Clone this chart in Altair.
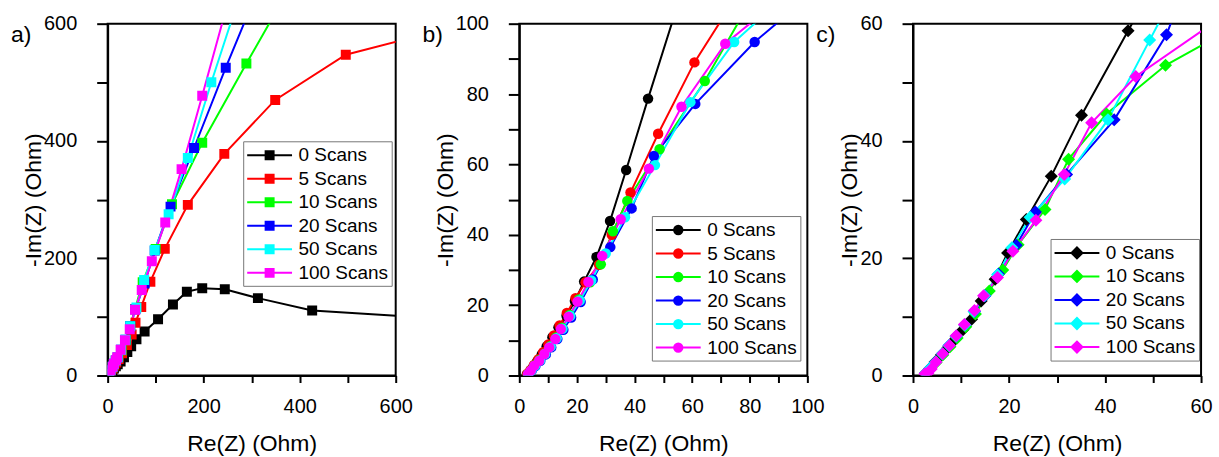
import altair as alt
import pandas as pd

FONT = "Liberation Sans"

# ---------------- data (Re(Z), -Im(Z)) ----------------
names_ab = ["0 Scans", "5 Scans", "10 Scans", "20 Scans", "50 Scans", "100 Scans"]
colors_ab = ["#000000", "#ff0000", "#00ff00", "#0000ff", "#00ffff", "#ff00ff"]
names_c = ["0 Scans", "10 Scans", "20 Scans", "50 Scans", "100 Scans"]
colors_c = ["#000000", "#00ff00", "#0000ff", "#00ffff", "#ff00ff"]
panel_letters = ["a)", "b)", "c)"]

# panel a (squares)
a0_x = [3, 6, 10, 13, 17, 21, 27, 34, 41, 49, 60, 77, 105, 136, 165, 197, 244, 313, 426, 700]
a0_y = [2, 5, 9, 12, 16, 19, 24, 31, 40, 50, 62, 75, 96, 121, 143, 149, 147, 132, 111, 97]
a5_x = [3, 6, 10, 14, 18, 23, 30, 40, 50, 58, 70, 89, 119, 167, 243, 349, 496, 700]
a5_y = [2, 7, 12, 17, 22, 28, 38, 52, 70, 90, 117, 160, 216, 291, 378, 470, 547, 590]
a10_x = [3, 6, 10, 13, 17, 22, 29, 38, 47, 57, 73, 100, 134, 197, 289, 360]
a10_y = [2, 8, 14, 19, 25, 31, 43, 60, 84, 113, 159, 216, 292, 397, 532, 634]
a20_x = [3, 6, 10, 13, 17, 21, 28, 37, 47, 58, 77, 98, 131, 180, 246, 300]
a20_y = [2, 9, 15, 20, 26, 31, 44, 61, 84, 113, 157, 213, 288, 388, 525, 632]
a50_x = [3, 6, 10, 13, 17, 21, 28, 37, 47, 60, 76, 98, 127, 167, 216, 265]
a50_y = [2, 9, 15, 20, 26, 31, 44, 61, 84, 116, 163, 214, 275, 371, 500, 623]
a100_x = [3, 6, 10, 13, 17, 20, 27, 36, 46, 57, 71, 92, 120, 154, 197, 255]
a100_y = [2, 9, 15, 20, 26, 31, 44, 60, 79, 112, 146, 195, 261, 352, 477, 650]

# panel b (circles)
b0_x = [2.6, 3.6, 4.8, 6.2, 7.8, 9.5, 11.5, 13.6, 16.4, 19.3, 22.5, 26.8, 31.5, 37.1, 44.7, 56]
b0_y = [0.2, 1, 2.4, 4, 6, 8.3, 10.9, 13.7, 17, 21.2, 26.7, 33.7, 43.9, 58.4, 78.7, 108]
b5_x = [2.8, 3.9, 5.1, 6.6, 8.3, 10.1, 12, 14, 16.5, 19.5, 23, 27.7, 32.1, 38.6, 48.2, 60.8, 74]
b5_y = [0.5, 1.6, 3, 4.6, 6.6, 8.8, 11.4, 14.2, 17.8, 22, 26.5, 31.5, 40, 52, 68.7, 89, 106]
b10_x = [3, 4.1, 5.3, 7, 8.9, 10.7, 12.8, 14.8, 17.5, 20.7, 24.6, 28.3, 32.5, 37.5, 48.7, 64.4, 80]
b10_y = [0.4, 1.5, 2.9, 4.4, 6.3, 8.3, 10.8, 13.6, 17.2, 21.6, 26.5, 31.6, 41, 49.6, 64.3, 83.7, 106]
b20_x = [3.2, 4.3, 5.6, 7.3, 9.2, 11.1, 13.2, 15.3, 18, 21.3, 25.5, 31.6, 39, 46.7, 61.1, 81.7, 95]
b20_y = [0.4, 1.4, 2.7, 4.2, 6, 8, 10.4, 13, 16.5, 20.9, 27.3, 36.5, 47.5, 62.4, 77.2, 94.8, 104]
b50_x = [3.1, 4.2, 5.5, 7.2, 9, 10.9, 13, 15, 17.7, 21, 25, 30, 36.7, 47.1, 59.4, 74.6, 88]
b50_y = [0.4, 1.4, 2.8, 4.3, 6.2, 8.2, 10.6, 13.3, 16.9, 21.3, 27, 34.7, 45, 59.8, 77.7, 94.8, 104.7]
b100_x = [3, 4, 5.2, 6.9, 8.7, 10.4, 12.5, 14.4, 17.1, 20.2, 24, 28.8, 35.2, 45, 56.3, 71.5, 86]
b100_y = [0.4, 1.4, 2.8, 4.2, 6.1, 8, 10.4, 13.2, 16.7, 21, 26.6, 34, 44.4, 58.8, 76.4, 94.3, 104]

# panel c (diamonds)
c0_x = [2.6, 3.5, 4.6, 5.9, 7.3, 8.8, 10.4, 12.2, 14.2, 17.1, 19.7, 23.6, 28.8, 35.1, 44.8, 48]
c0_y = [0.4, 1.2, 2.3, 3.5, 4.8, 6.2, 7.8, 9.6, 12.7, 16.4, 20.9, 26.6, 34, 44.4, 58.8, 63.5]
c10_x = [2.7, 3.6, 4.8, 6.2, 7.7, 9.2, 11, 13, 15.9, 18.7, 21.9, 27.5, 32.4, 40.3, 52.6, 66]
c10_y = [0.4, 1.1, 2.2, 3.5, 4.9, 6.4, 8.3, 10.5, 14.4, 18, 22.3, 28.3, 36.9, 44.6, 52.9, 59]
c20_x = [2.6, 3.5, 4.7, 6.1, 7.5, 9, 10.8, 12.8, 15, 17.8, 21.5, 25.5, 32, 41.9, 52.8, 55]
c20_y = [0.4, 1.2, 2.3, 3.7, 5.1, 6.7, 8.6, 10.9, 13.6, 17.3, 22.2, 27.9, 34.3, 43.6, 58.1, 62.9]
c50_x = [2.6, 3.5, 4.7, 6.1, 7.5, 9, 10.8, 12.7, 14.9, 17.6, 20.6, 24.4, 31.6, 40.6, 49.3, 52]
c50_y = [0.4, 1.2, 2.3, 3.7, 5.1, 6.7, 8.6, 10.9, 13.6, 17.2, 21.8, 27, 33.5, 43.6, 57.2, 61.4]
c100_x = [2.5, 3.1, 3.8, 4.8, 6.2, 7.6, 9, 10.7, 12.8, 14.7, 17.6, 20.8, 25.6, 31.5, 37.2, 46.4, 68]
c100_y = [0.3, 0.4, 1.1, 2.3, 3.7, 5.1, 6.8, 8.7, 11.1, 13.6, 16.7, 21.2, 26.5, 34.3, 43.1, 51, 63.2]

series_a = [(a0_x, a0_y), (a5_x, a5_y), (a10_x, a10_y), (a20_x, a20_y), (a50_x, a50_y), (a100_x, a100_y)]
series_b = [(b0_x, b0_y), (b5_x, b5_y), (b10_x, b10_y), (b20_x, b20_y), (b50_x, b50_y), (b100_x, b100_y)]
series_c = [(c0_x, c0_y), (c10_x, c10_y), (c20_x, c20_y), (c50_x, c50_y), (c100_x, c100_y)]


def make_df(series, names):
    rows = []
    for s, (name, (xs, ys)) in enumerate(zip(names, series)):
        for i, (x, y) in enumerate(zip(xs, ys)):
            rows.append({"re": x, "im": y, "series": name, "i": i, "s": s})
    return pd.DataFrame(rows)


# legend glyphs: a line segment with the marker in its middle (1 unit = 10 px)
SQ = "M-2.25,0H2.25M-0.4,-0.4H0.4V0.4H-0.4Z"
CI = "M-2.25,0H2.25M-0.42,0A0.42,0.42 0 1,0 0.42,0A0.42,0.42 0 1,0 -0.42,0Z"
DI = "M-2.25,0H2.25M-0.55,0L0,-0.55L0.55,0L0,0.55Z"


def panel(df, names, colors, xmax, ymax, step, lab_step, shape, msize, sym_path, lx, ly, letter):
    ticks_x = [k * step for k in range(int(round(xmax / step)) + 1)]
    ticks_y = [k * step for k in range(int(round(ymax / step)) + 1)]
    expr = f"datum.value % {lab_step} == 0 ? datum.label : ''"
    legend = alt.Legend(
        title=None, orient="none", legendX=lx, legendY=ly,
        symbolType=sym_path, symbolSize=400, symbolStrokeWidth=2,
        labelFont=FONT, labelFontSize=19, labelColor="black",
        symbolOffset=12.5, labelOffset=18,
        rowPadding=2.6, padding=3, strokeColor="#777777", fillColor="white",
    )
    color = alt.Color("series:N", scale=alt.Scale(domain=names, range=colors), legend=legend)
    x = alt.X("re:Q", scale=alt.Scale(domain=[0, xmax], nice=False, zero=False),
              axis=alt.Axis(values=ticks_x, labelExpr=expr, title="Re(Z) (Ohm)",
                            tickSize=7, labelPadding=14, titlePadding=16))
    y = alt.Y("im:Q", scale=alt.Scale(domain=[0, ymax], nice=False, zero=False),
              axis=alt.Axis(values=ticks_y, labelExpr=expr, title="-Im(Z) (Ohm)",
                            tickSize=11, labelPadding=20, titlePadding=-2))
    lines = alt.Chart(df).mark_line(strokeWidth=2, clip=True).encode(
        x=x, y=y, color=color, order=alt.Order("i:Q"))
    pts = alt.Chart(df).mark_point(shape=shape, size=msize, filled=True, opacity=1, clip=True).encode(
        x=x, y=y, color=color, order=alt.Order("s:Q"))
    lab = alt.Chart(pd.DataFrame({"t": [letter]})).mark_text(
        font=FONT, fontSize=23, color="black", align="left", baseline="middle"
    ).encode(text="t:N", x=alt.value(-97), y=alt.value(11))
    return alt.layer(lines, pts, lab).properties(width=289, height=353)


pa = panel(make_df(series_a, names_ab), names_ab, colors_ab, 600, 600, 100, 200,
           "square", 100, SQ, 136, 118, panel_letters[0])
pb = panel(make_df(series_b, names_ab), names_ab, colors_ab, 100, 100, 10, 20,
           "circle", 110, CI, 133, 193, panel_letters[1])
pc = panel(make_df(series_c, names_c), names_c, colors_c, 60, 60, 10, 20,
           "diamond", 170, DI, 138, 216, panel_letters[2])

inner = alt.hconcat(pb, pc, spacing=106, bounds="flush").resolve_scale(
    color="independent").resolve_legend(color="independent")
chart = alt.hconcat(pa, inner, spacing=124, bounds="flush").resolve_scale(
    color="independent").resolve_legend(color="independent").properties(
    padding={"left": 10, "top": 12, "right": 5, "bottom": 5}
).configure_axis(
    domainColor="black", domainWidth=2, tickColor="black", tickWidth=2,
    labelFont=FONT, labelFontSize=20, labelColor="black",
    titleFont=FONT, titleFontSize=23, titleFontWeight="normal", titleColor="black",
    grid=False, labelFlush=False, labelOverlap=False,
).configure_view(stroke="black", strokeWidth=2)

chart.save("out.html", embed_options={"renderer": "svg", "actions": False})
